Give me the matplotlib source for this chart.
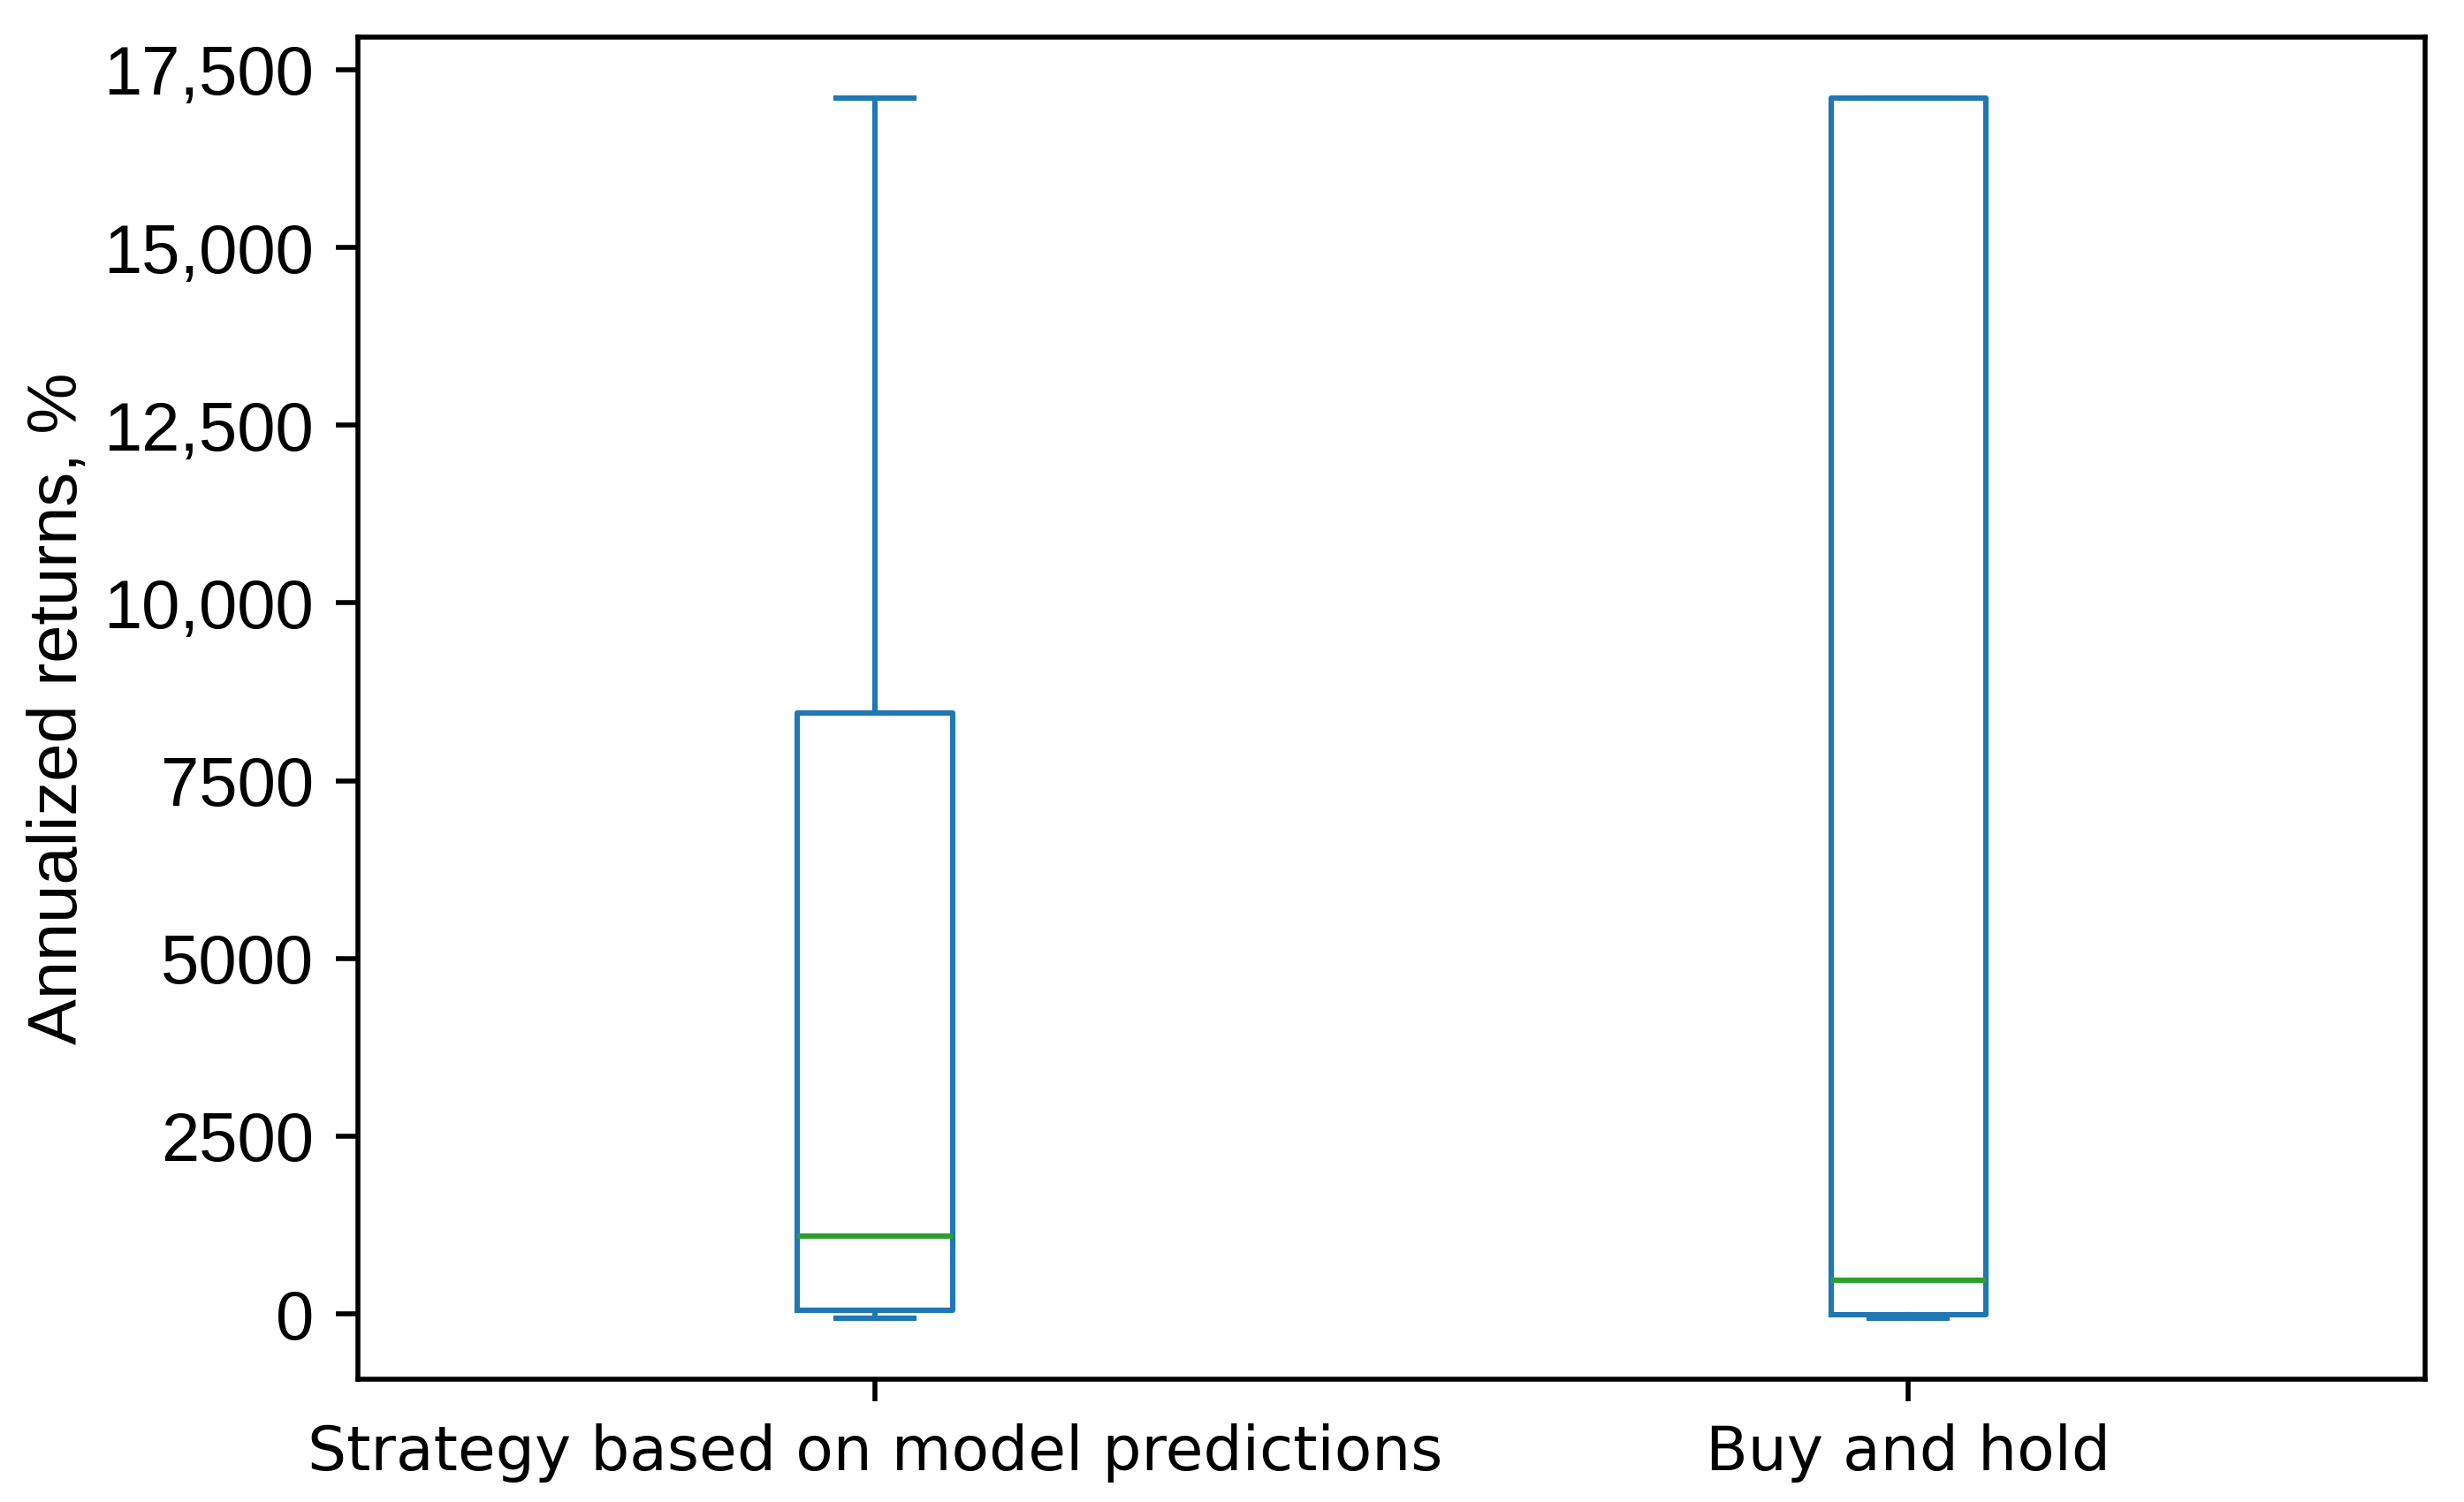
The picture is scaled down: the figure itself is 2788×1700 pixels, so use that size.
import matplotlib
matplotlib.use("Agg")
import matplotlib.pyplot as plt
from matplotlib.ticker import FuncFormatter

# Data
categories = ["Strategy based on model predictions", "Buy and hold"]
whisker_low = [-60, -60]
q1_values = [50, -10]
medians = [1100, 475]
q3_values = [8450, 17100]
whisker_high = [17100, 17100]
yticks = [0, 2500, 5000, 7500, 10000, 12500, 15000, 17500]

stats = []
for lab, wl, q1, med, q3, wh in zip(categories, whisker_low, q1_values, medians, q3_values, whisker_high):
    stats.append(dict(label=lab, whislo=wl, q1=q1, med=med, q3=q3, whishi=wh, fliers=[]))

DPI = 200
fig = plt.figure(figsize=(2788 / DPI, 1700 / DPI), dpi=DPI)
ax = fig.add_axes([0.1453, 0.0818, 0.8389, 0.8935])

lw = 2.2
blue = "#1f77b4"
green = "#2ca02c"
ax.bxp(stats, showfliers=False,
       boxprops=dict(color=blue, linewidth=lw),
       whiskerprops=dict(color=blue, linewidth=lw),
       capprops=dict(color=blue, linewidth=lw),
       medianprops=dict(color=green, linewidth=lw))

ax.set_yticks(yticks)
ax.yaxis.set_major_formatter(FuncFormatter(lambda v, p: f"{int(v):,}" if abs(v) >= 10000 else f"{int(v)}"))

for s in ax.spines.values():
    s.set_linewidth(2.0)

ax.tick_params(axis="both", length=9, width=2.0, pad=9)
for t in ax.get_yticklabels():
    t.set_fontfamily("Liberation Sans")
    t.set_fontsize(28)
for t in ax.get_xticklabels():
    t.set_fontfamily("DejaVu Sans")
    t.set_fontsize(25)

ax.set_ylabel("Annualized returns, %", fontsize=28, family="Liberation Sans", labelpad=5)

fig.savefig("out.png", dpi=DPI)
